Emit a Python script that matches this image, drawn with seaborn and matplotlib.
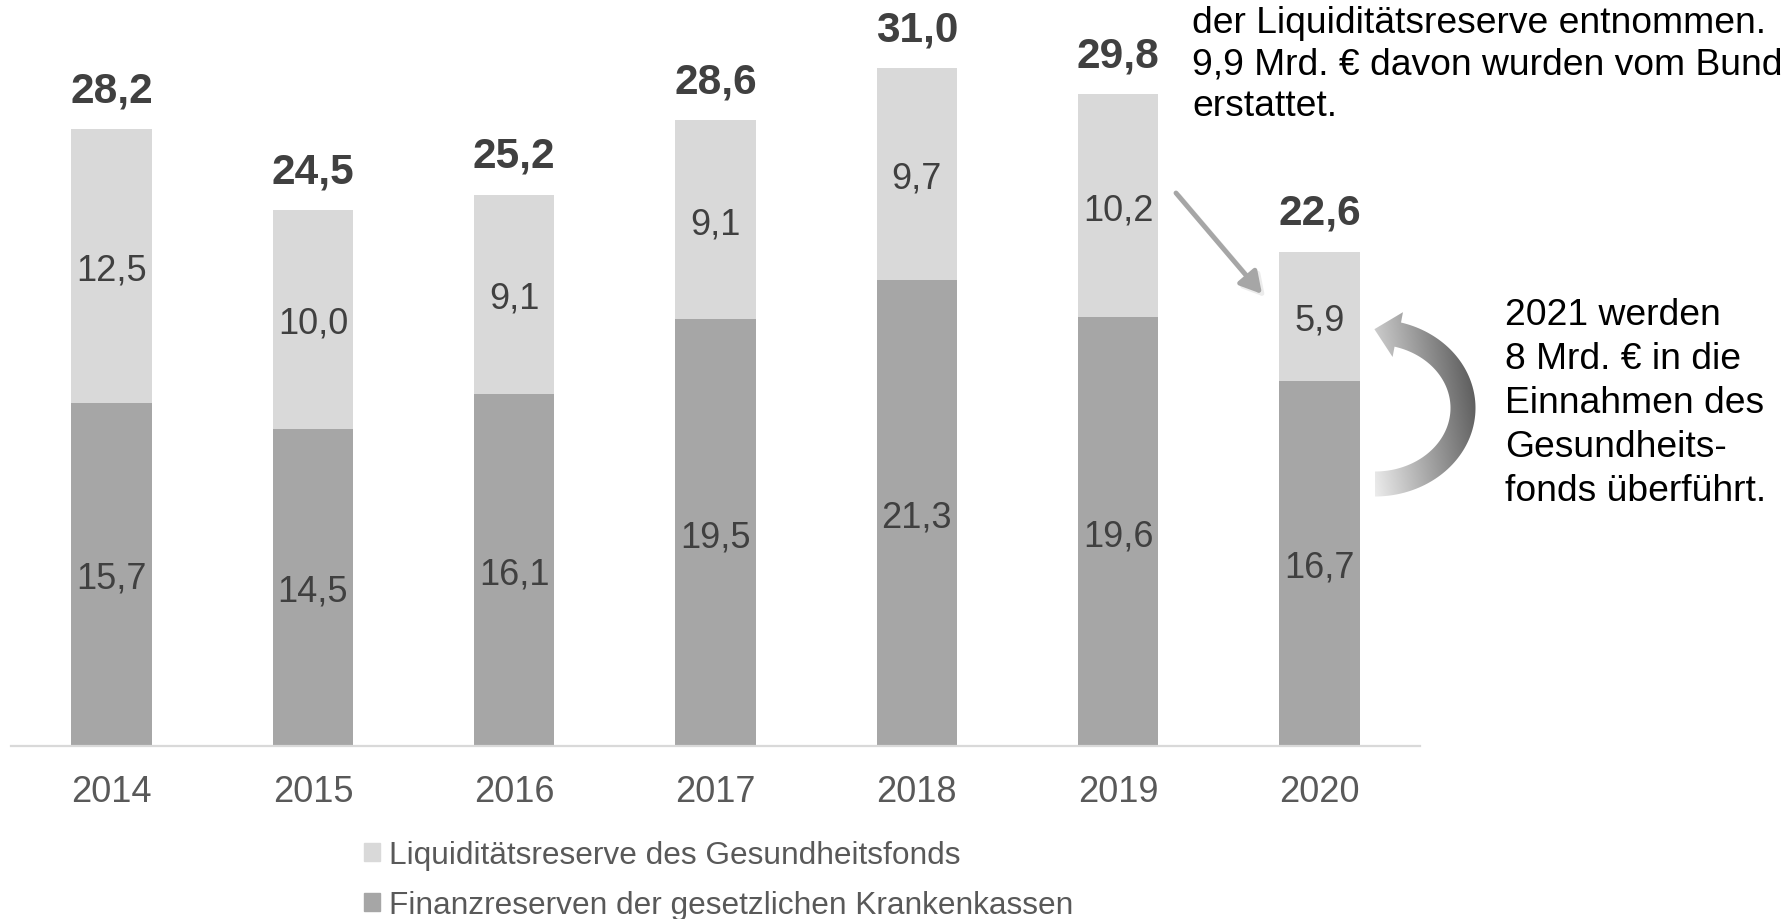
import numpy as np
import seaborn as sns
import matplotlib.pyplot as plt
import pandas as pd
from matplotlib.path import Path
from matplotlib.patches import PathPatch, Patch

jahre = ["2014", "2015", "2016", "2017", "2018", "2019", "2020"]
fonds = [12.5, 10.0, 9.1, 9.1, 9.7, 10.2, 5.9]       # Liquiditätsreserve des Gesundheitsfonds
kassen = [15.7, 14.5, 16.1, 19.5, 21.3, 19.6, 16.7]  # Finanzreserven der Krankenkassen
serien = ["Liquiditätsreserve des Gesundheitsfonds",
          "Finanzreserven der gesetzlichen Krankenkassen"]
text_oben = ["der Liquiditätsreserve entnommen.",
             "9,9 Mrd. € davon wurden vom Bund",
             "erstattet."]
text_rechts = ["2021 werden", "8 Mrd. € in die", "Einnahmen des",
               "Gesundheits-", "fonds überführt."]

hell = "#d9d9d9"
dunkel = "#a6a6a6"
grau_text = "#404040"

df = pd.DataFrame({"Jahr": jahre, "Fonds": fonds, "Kassen": kassen})
df["Gesamt"] = (df["Fonds"] + df["Kassen"]).round(1)


def fmt(v):
    return f"{v:.1f}".replace(".", ",")


sns.set_style("white")
plt.rcParams["font.family"] = ["Liberation Sans", "DejaVu Sans"]

W, H = 1791, 920
fig = plt.figure(figsize=(W / 100, H / 100), dpi=100)
ax = fig.add_axes([11 / W, 1 - 747 / H, (1420 - 11) / W, 747 / H])

# gestapelt: erst Gesamthöhe hell, dann Kassen dunkel darüber
sns.barplot(data=df, x="Jahr", y="Gesamt", color=hell, width=0.4,
            saturation=1, linewidth=0, ax=ax)
sns.barplot(data=df, x="Jahr", y="Kassen", color=dunkel, width=0.4,
            saturation=1, linewidth=0, ax=ax)

for i, row in df.iterrows():
    ax.text(i, row["Kassen"] / 2, fmt(row["Kassen"]), ha="center",
            va="center_baseline", fontsize=26, color=grau_text)
    ax.text(i, row["Kassen"] + row["Fonds"] / 2, fmt(row["Fonds"]), ha="center",
            va="center_baseline", fontsize=26, color=grau_text)
    ax.annotate(fmt(row["Gesamt"]), (i, row["Gesamt"]), xytext=(0, 20),
                textcoords="offset points", ha="center", va="baseline",
                fontsize=30.5, fontweight="bold", color=grau_text)

ax.set_xlim(-0.5, 6.5)
ax.set_ylim(0, 34.15)
ax.set_xlabel("")
ax.set_ylabel("")
ax.set_yticks([])
ax.tick_params(axis="x", length=0, pad=20, labelsize=26, labelcolor="#595959")
for s in ["top", "left", "right"]:
    ax.spines[s].set_visible(False)
ax.spines["bottom"].set_color(hell)
ax.spines["bottom"].set_linewidth(1.6)

handles = [Patch(color=hell, label=serien[0]), Patch(color=dunkel, label=serien[1])]
fig.legend(handles=handles, loc="upper left", bbox_to_anchor=(364 / W, 1 - 841 / H),
           frameon=False, fontsize=22.8, handlelength=0.5, handleheight=0.5,
           handletextpad=0.28, labelspacing=0.64, borderaxespad=0, borderpad=0,
           labelcolor="#595959")

# Overlay in Pixelkoordinaten für die Pfeile
ov = fig.add_axes([0, 0, 1, 1], zorder=5)
ov.patch.set_alpha(0)

# gerader Pfeil mit leichtem Schatten
for off, col in [(3, "#ececec"), (0, "#a6a6a6")]:
    ov.annotate("", xy=(1262 + off, 295 + off), xytext=(1176 + off, 194 + off),
                arrowprops=dict(arrowstyle="-|>,head_length=0.8,head_width=0.45",
                                color=col, lw=3.5, shrinkA=0, shrinkB=0,
                                mutation_scale=16))

# gebogener Pfeil mit Farbverlauf
cx, cy, rx, ry, w = 1375, 409, 88, 76, 25
t_end = np.radians(-75)
t = np.linspace(np.radians(90), t_end, 90)
outer = np.c_[cx + (rx + w / 2) * np.cos(t), cy + (ry + w / 2) * np.sin(t)]
inner = np.c_[cx + (rx - w / 2) * np.cos(t), cy + (ry - w / 2) * np.sin(t)]
B = np.array([cx + rx * np.cos(t_end), cy + ry * np.sin(t_end)])
d = np.array([rx * np.sin(t_end), -ry * np.cos(t_end)])
d /= np.linalg.norm(d)
nrm = np.array([-d[1], d[0]])
hw, L = 23, 24
kopf = [B + hw * nrm, B + L * d, B - hw * nrm]
pts = np.vstack([outer, kopf, inner[::-1], outer[:1]])
codes = [Path.MOVETO] + [Path.LINETO] * (len(pts) - 2) + [Path.CLOSEPOLY]
pfeil = PathPatch(Path(pts, codes), facecolor="none", edgecolor="none")
ov.add_patch(pfeil)
xx, yy = np.meshgrid(np.linspace(0, 1, 200), np.linspace(0, 1, 200))
grau = 0.95 - 0.52 * xx - 0.15 * yy
im = ov.imshow(grau, extent=(1370, 1480, 310, 500), origin="upper", cmap="gray",
               vmin=0, vmax=1, aspect="auto", interpolation="bilinear")
im.set_clip_path(pfeil)

ov.set_xlim(0, W)
ov.set_ylim(H, 0)
ov.axis("off")

for k, zeile in enumerate(text_oben):
    fig.text(1192 / W, 1 - (33 + 41.5 * k) / H, zeile, fontsize=26.8,
             ha="left", va="baseline", color="black")
for k, zeile in enumerate(text_rechts):
    fig.text(1505 / W, 1 - (325 + 44 * k) / H, zeile, fontsize=26.8,
             ha="left", va="baseline", color="black")

fig.savefig("out.png", dpi=100)
